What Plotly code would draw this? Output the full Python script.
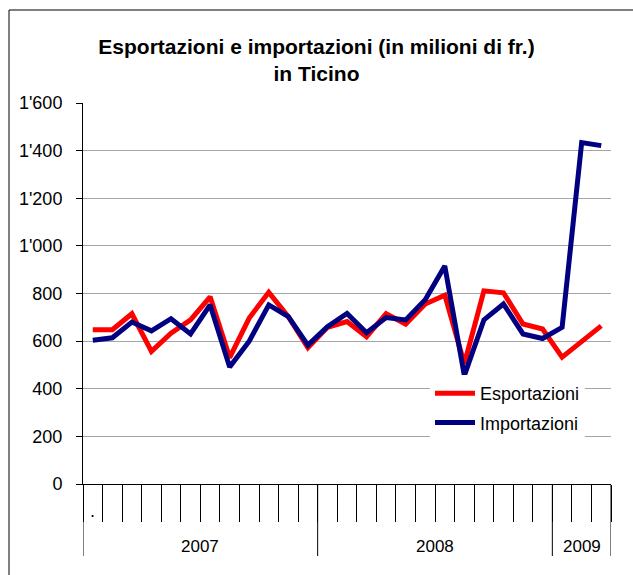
import plotly.graph_objects as go

# ---- data ----
years = ["2007"] * 12 + ["2008"] * 12 + ["2009"] * 3
month_nums = list(range(1, 13)) * 2 + [1, 2, 3]
periods = [f"{y}-{m:02d}" for y, m in zip(years, month_nums)]
first_label = "."

esportazioni = [648, 648, 715, 557, 633, 689, 786, 531, 697, 805, 703, 572,
                658, 682, 618, 715, 671, 756, 793, 505, 811, 803, 672, 651,
                533, 597, 664]
importazioni = [604, 614, 680, 643, 694, 630, 752, 491, 600, 752, 703, 583,
                661, 716, 635, 699, 689, 774, 916, 455, 689, 756, 630, 611,
                658, 1434, 1421]

y_ticks = [0, 200, 400, 600, 800, 1000, 1200, 1400, 1600]
year_labels = ["2007", "2008", "2009"]

title_text = "<b>Esportazioni e importazioni (in milioni di fr.)<br>in Ticino</b>"

# ---- layout geometry ----
W, H = 633, 575
ML, MR, MT, MB = 83, 22, 103, 91
PW, PH = W - ML - MR, H - MT - MB
FONT = "Liberation Sans, Arial, sans-serif"

fig = go.Figure()
fig.add_trace(go.Scatter(x=periods, y=esportazioni, mode="lines", name="Esportazioni",
                         line=dict(color="#ff0000", width=5), legendgroup="e"))
fig.add_trace(go.Scatter(x=periods, y=importazioni, mode="lines", name="Importazioni",
                         line=dict(color="#000080", width=5), legendgroup="i"))

shapes = []
annotations = []

# year group separators and labels
counts = [years.count(y) for y in year_labels]
start = 0
bounds = [0]
for yl, n in zip(year_labels, counts):
    center = start + n / 2 - 0.5
    annotations.append(dict(x=center, xref="x", y=-62 / PH, yref="paper",
                            text=yl, showarrow=False, yanchor="middle",
                            font=dict(size=17, color="black", family=FONT)))
    start += n
    bounds.append(start)
for b in bounds:
    shapes.append(dict(type="line", xref="x", yref="paper", x0=b - 0.5, x1=b - 0.5,
                       y0=0, y1=-72 / PH, line=dict(color="black", width=1)))

# first category label
annotations.append(dict(x=0, xref="x", y=-27 / PH, yref="paper", text=first_label,
                        showarrow=False, yanchor="middle",
                        font=dict(size=18, color="black", family=FONT)))

# outer chart border
shapes.append(dict(type="rect", xref="paper", yref="paper",
                   x0=(9 - ML) / PW, x1=(W + 10 - ML) / PW,
                   y0=(H - MB - (H + 10)) / PH, y1=(H - MB - 10) / PH,
                   line=dict(color="black", width=1), layer="below"))

fig.update_layout(
    width=W, height=H, autosize=False,
    margin=dict(l=ML, r=MR, t=MT, b=MB, pad=0),
    paper_bgcolor="white", plot_bgcolor="white",
    font=dict(family=FONT, size=18, color="black"),
    separators=".'",
    title=dict(text=title_text, x=0.5, xanchor="center", xref="container",
               y=1 - 54 / H, yanchor="top", yref="container",
               font=dict(size=21, color="black", family=FONT)),
    showlegend=True,
    legend=dict(x=(430 - ML) / PW, xanchor="left", y=(H - MB - 375) / PH, yanchor="top",
                bgcolor="white", borderwidth=0, font=dict(size=18, family=FONT),
                traceorder="grouped", tracegroupgap=3, itemwidth=40),
    xaxis=dict(type="category", range=[-0.5, len(periods) - 0.5],
               showgrid=False, zeroline=False, showline=True, linecolor="black", linewidth=1,
               tickmode="linear", tick0=0, dtick=1, tickson="boundaries",
               ticks="outside", ticklen=37, tickcolor="black", tickwidth=1,
               showticklabels=False),
    yaxis=dict(range=[0, 1600], tickvals=y_ticks, tickformat=",d",
               showgrid=True, gridcolor="#a6a6a6", gridwidth=1, zeroline=False,
               showline=True, linecolor="black", linewidth=1,
               ticks="outside", ticklen=6, tickcolor="black", tickwidth=1,
               ticklabelstandoff=10,
               tickfont=dict(size=18, family=FONT, color="black")),
    shapes=shapes,
    annotations=annotations,
)

fig.write_html("out.html", config={"displayModeBar": False},
               post_script="document.body.style.margin='0';")
